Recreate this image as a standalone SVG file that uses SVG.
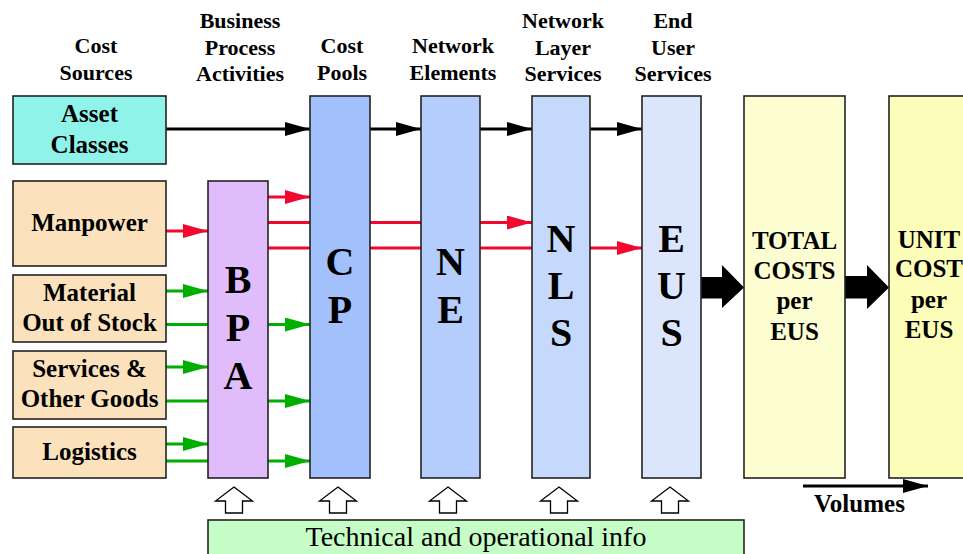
<svg xmlns="http://www.w3.org/2000/svg" width="963" height="554" viewBox="0 0 963 554">
<style>
text{font-family:"Liberation Serif","Times New Roman",serif;font-weight:bold;text-anchor:middle;fill:#000}
.hdr{font-size:22px}
.lbl{font-size:25px}
.big{font-size:40px}
.box{stroke:#222;stroke-width:1.6}
.blk{stroke:#000;stroke-width:2.8;fill:none}
.red{stroke:#f2072f;stroke-width:2.8;fill:none}
.grn{stroke:#00ae00;stroke-width:2.8;fill:none}
.hollow{fill:#fff;stroke:#000;stroke-width:1.3}
.fat{fill:#000}
</style>
<defs>
<marker id="ab" markerUnits="userSpaceOnUse" markerWidth="26" markerHeight="14" refX="25" refY="7" orient="auto"><path d="M0,0 L25,7 L0,14 Z" fill="#000"/></marker>
<marker id="ar" markerUnits="userSpaceOnUse" markerWidth="26" markerHeight="14" refX="25" refY="7" orient="auto"><path d="M0,0 L25,7 L0,14 Z" fill="#f2072f"/></marker>
<marker id="ag" markerUnits="userSpaceOnUse" markerWidth="26" markerHeight="14" refX="25" refY="7" orient="auto"><path d="M0,0 L25,7 L0,14 Z" fill="#00ae00"/></marker>
</defs>
<rect width="963" height="554" fill="#fff"/>

<g id="headers">
<text class="hdr" x="96" y="53">Cost</text>
<text class="hdr" x="96" y="80">Sources</text>
<text class="hdr" x="240" y="28">Business</text>
<text class="hdr" x="240" y="54.5">Process</text>
<text class="hdr" x="240" y="81">Activities</text>
<text class="hdr" x="342" y="53">Cost</text>
<text class="hdr" x="342" y="80">Pools</text>
<text class="hdr" x="453" y="53">Network</text>
<text class="hdr" x="453" y="80">Elements</text>
<text class="hdr" x="563" y="28">Network</text>
<text class="hdr" x="563" y="54.5">Layer</text>
<text class="hdr" x="563" y="81">Services</text>
<text class="hdr" x="673" y="28">End</text>
<text class="hdr" x="673" y="54.5">User</text>
<text class="hdr" x="673" y="81">Services</text>
</g>

<g id="connectors">
<line class="blk" x1="166" y1="129" x2="310" y2="129" marker-end="url(#ab)"/>
<line class="blk" x1="370" y1="129" x2="421" y2="129" marker-end="url(#ab)"/>
<line class="blk" x1="480" y1="129" x2="532" y2="129" marker-end="url(#ab)"/>
<line class="blk" x1="590" y1="129" x2="642" y2="129" marker-end="url(#ab)"/>
<line class="red" x1="166" y1="231" x2="208" y2="231" marker-end="url(#ar)"/>
<line class="red" x1="268" y1="197" x2="310" y2="197" marker-end="url(#ar)"/>
<line class="red" x1="268" y1="222.5" x2="532" y2="222.5" marker-end="url(#ar)"/>
<line class="red" x1="268" y1="248" x2="642" y2="248" marker-end="url(#ar)"/>
<line class="grn" x1="166" y1="291" x2="208" y2="291" marker-end="url(#ag)"/>
<line class="grn" x1="166" y1="324.5" x2="310" y2="324.5" marker-end="url(#ag)"/>
<line class="grn" x1="166" y1="367" x2="208" y2="367" marker-end="url(#ag)"/>
<line class="grn" x1="166" y1="401" x2="310" y2="401" marker-end="url(#ag)"/>
<line class="grn" x1="166" y1="444" x2="208" y2="444" marker-end="url(#ag)"/>
<line class="grn" x1="166" y1="461" x2="310" y2="461" marker-end="url(#ag)"/>
<path class="fat" d="M701,277 H722 V265 L744,287.5 L722,308 V298.5 H701 Z"/>
<path class="fat" d="M845,276 H867 V265 L889,287.5 L867,309 V298.5 H845 Z"/>
<path class="hollow" d="M234,487 L252.5,501 H242.5 V513 H225.5 V501 H215.5 Z"/>
<path class="hollow" d="M338,487 L356.5,501 H346.5 V513 H329.5 V501 H319.5 Z"/>
<path class="hollow" d="M448,487 L466.5,501 H456.5 V513 H439.5 V501 H429.5 Z"/>
<path class="hollow" d="M559,487 L577.5,501 H567.5 V513 H550.5 V501 H540.5 Z"/>
<path class="hollow" d="M670,487 L688.5,501 H678.5 V513 H661.5 V501 H651.5 Z"/>
<line class="blk" x1="803" y1="486" x2="928" y2="486" stroke-width="2" marker-end="url(#ab)"/>
</g>

<g id="asset-classes">
<rect class="box" x="13" y="96" width="153" height="68" fill="#8ff3ea"/>
<text class="lbl" x="89.5" y="122">Asset</text>
<text class="lbl" x="89.5" y="153">Classes</text>
</g>
<g id="manpower">
<rect class="box" x="13" y="181" width="153" height="85" fill="#fbe1bc"/>
<text class="lbl" x="89.5" y="231">Manpower</text>
</g>
<g id="material">
<rect class="box" x="13" y="275" width="153" height="67" fill="#fbe1bc"/>
<text class="lbl" x="89.5" y="300.5">Material</text>
<text class="lbl" x="89.5" y="331">Out of Stock</text>
</g>
<g id="services">
<rect class="box" x="13" y="351" width="153" height="68" fill="#fbe1bc"/>
<text class="lbl" x="89.5" y="377">Services &amp;</text>
<text class="lbl" x="89.5" y="407">Other Goods</text>
</g>
<g id="logistics">
<rect class="box" x="13" y="427" width="153" height="51" fill="#fbe1bc"/>
<text class="lbl" x="89.5" y="460">Logistics</text>
</g>

<g id="bpa">
<rect class="box" x="208" y="181" width="60" height="297" fill="#e1bcfb"/>
<text class="big" x="238" y="293">B</text>
<text class="big" x="238" y="341">P</text>
<text class="big" x="238" y="389">A</text>
</g>
<g id="cp">
<rect class="box" x="310" y="96" width="60" height="382" fill="#a2c0fc"/>
<text class="big" x="340" y="275">C</text>
<text class="big" x="340" y="323">P</text>
</g>
<g id="ne">
<rect class="box" x="421" y="96" width="59" height="382" fill="#b4cdfc"/>
<text class="big" x="450.5" y="275">N</text>
<text class="big" x="450.5" y="323">E</text>
</g>
<g id="nls">
<rect class="box" x="532" y="96" width="58" height="382" fill="#c5d9fc"/>
<text class="big" x="561" y="252">N</text>
<text class="big" x="561" y="299">L</text>
<text class="big" x="561" y="346">S</text>
</g>
<g id="eus">
<rect class="box" x="642" y="96" width="59" height="382" fill="#dbe6fd"/>
<text class="big" x="671.5" y="252">E</text>
<text class="big" x="671.5" y="299">U</text>
<text class="big" x="671.5" y="346">S</text>
</g>
<g id="total">
<rect class="box" x="744" y="96" width="101" height="382" fill="#fcfdd0"/>
<text class="lbl" x="794.5" y="249">TOTAL</text>
<text class="lbl" x="794.5" y="279">COSTS</text>
<text class="lbl" x="794.5" y="309">per</text>
<text class="lbl" x="794.5" y="340">EUS</text>
</g>
<g id="unit">
<rect class="box" x="889" y="96" width="101" height="382" fill="#fcfdb8"/>
<text class="lbl" x="929" y="248" font-size="27">UNIT</text>
<text class="lbl" x="929" y="277" font-size="27">COST</text>
<text class="lbl" x="929" y="308" font-size="27">per</text>
<text class="lbl" x="929" y="338" font-size="27">EUS</text>
</g>
<g id="volumes">
<text class="lbl" x="859.5" y="512">Volumes</text>
</g>
<g id="tech-info">
<rect class="box" x="208" y="520" width="536" height="40" fill="#c6fcc6"/>
<text x="476" y="546" style="font-weight:normal;font-size:28px">Technical and operational info</text>
</g>
</svg>
